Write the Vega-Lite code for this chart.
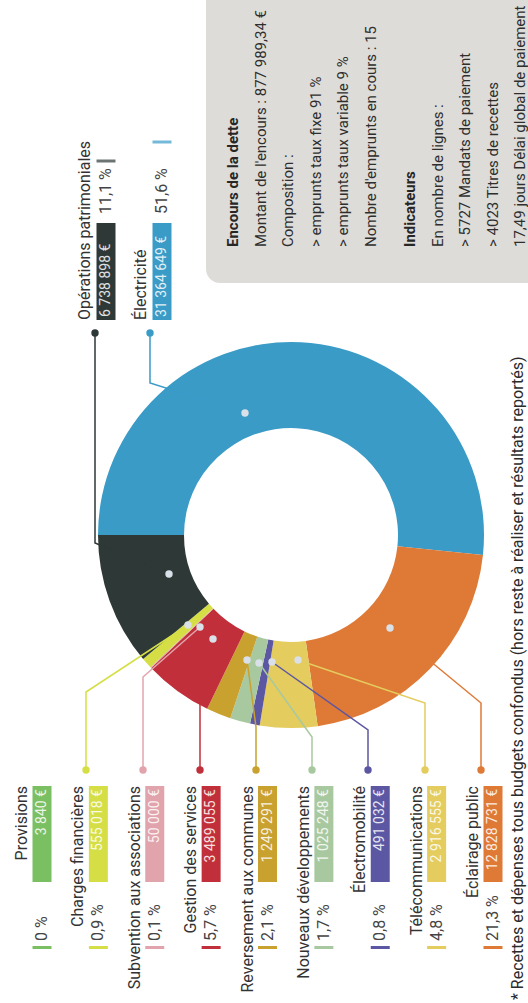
{
  "$schema": "https://vega.github.io/schema/vega-lite/v6.json",
  "width": 528,
  "height": 1003,
  "autosize": "none",
  "padding": 0,
  "background": "white",
  "config": {
    "view": {"stroke": null},
    "font": "Roboto",
    "scale": {"pointPadding": 0},
    "locale": {"number": {"decimal": ",", "thousands": "\u00a0", "grouping": [3], "currency": ["", "\u00a0€"]}}
  },
  "datasets": {
    "cats": [
      {"category": "Électricité", "amount": 31364649, "pct": "51,6 %", "order": 1},
      {"category": "Éclairage public", "amount": 12828731, "pct": "21,3 %", "order": 2},
      {"category": "Télécommunications", "amount": 2916555, "pct": "4,8 %", "order": 3},
      {"category": "Électromobilité", "amount": 491032, "pct": "0,8 %", "order": 4},
      {"category": "Nouveaux développements", "amount": 1025248, "pct": "1,7 %", "order": 5},
      {"category": "Reversement aux communes", "amount": 1249291, "pct": "2,1 %", "order": 6},
      {"category": "Gestion des services", "amount": 3489055, "pct": "5,7 %", "order": 7},
      {"category": "Subvention aux associations", "amount": 50000, "pct": "0,1 %", "order": 8},
      {"category": "Charges financières", "amount": 555018, "pct": "0,9 %", "order": 9},
      {"category": "Provisions", "amount": 3840, "pct": "0 %", "order": 10},
      {"category": "Opérations patrimoniales", "amount": 6738898, "pct": "11,1 %", "order": 11}
    ],
    "leaders": [
      {"category": "Électricité", "step": 0, "px": 245, "py": 413},
      {"category": "Électricité", "step": 1, "px": 150, "py": 383},
      {"category": "Électricité", "step": 2, "px": 150, "py": 333},
      {"category": "Opérations patrimoniales", "step": 0, "px": 169, "py": 574},
      {"category": "Opérations patrimoniales", "step": 1, "px": 95, "py": 543},
      {"category": "Opérations patrimoniales", "step": 2, "px": 95, "py": 333},
      {"category": "Charges financières", "step": 0, "px": 188, "py": 625},
      {"category": "Charges financières", "step": 1, "px": 86, "py": 692},
      {"category": "Charges financières", "step": 2, "px": 86, "py": 770},
      {"category": "Subvention aux associations", "step": 0, "px": 200, "py": 627},
      {"category": "Subvention aux associations", "step": 1, "px": 143, "py": 677},
      {"category": "Subvention aux associations", "step": 2, "px": 143, "py": 770},
      {"category": "Gestion des services", "step": 0, "px": 213, "py": 639},
      {"category": "Gestion des services", "step": 1, "px": 200, "py": 700},
      {"category": "Gestion des services", "step": 2, "px": 200, "py": 770},
      {"category": "Reversement aux communes", "step": 0, "px": 247, "py": 660},
      {"category": "Reversement aux communes", "step": 1, "px": 256, "py": 727},
      {"category": "Reversement aux communes", "step": 2, "px": 256, "py": 770},
      {"category": "Nouveaux développements", "step": 0, "px": 259, "py": 663},
      {"category": "Nouveaux développements", "step": 1, "px": 312, "py": 737},
      {"category": "Nouveaux développements", "step": 2, "px": 312, "py": 770},
      {"category": "Électromobilité", "step": 0, "px": 272, "py": 662},
      {"category": "Électromobilité", "step": 1, "px": 368, "py": 730},
      {"category": "Électromobilité", "step": 2, "px": 368, "py": 770},
      {"category": "Télécommunications", "step": 0, "px": 298, "py": 660},
      {"category": "Télécommunications", "step": 1, "px": 425, "py": 703},
      {"category": "Télécommunications", "step": 2, "px": 425, "py": 770},
      {"category": "Éclairage public", "step": 0, "px": 390, "py": 628},
      {"category": "Éclairage public", "step": 1, "px": 481, "py": 703},
      {"category": "Éclairage public", "step": 2, "px": 481, "py": 770}
    ]
  },
  "resolve": {"scale": {"x": "independent", "y": "independent"}},
  "layer": [
    {
      "data": {"values": [{}]},
      "mark": {"type": "rect", "color": "#dddcd8", "cornerRadiusBottomLeft": 14},
      "encoding": {
        "x": {"datum": 206, "type": "quantitative", "scale": {"domain": [0, 528], "nice": false, "zero": false}, "axis": null},
        "x2": {"datum": 528},
        "y": {"datum": 0, "type": "quantitative", "scale": {"domain": [0, 1003], "nice": false, "reverse": true}, "axis": null},
        "y2": {"datum": 283}
      }
    },
    {
      "data": {"values": [{}]},
      "mark": {"type": "text", "angle": 270, "align": "left", "baseline": "top", "fontSize": 15, "fontWeight": "bold", "color": "#262626", "text": "Encours de la dette"},
      "encoding": {
        "x": {"datum": 226, "type": "quantitative", "scale": {"domain": [0, 528], "nice": false, "zero": false}, "axis": null},
        "y": {"datum": 247, "type": "quantitative", "scale": {"domain": [0, 1003], "nice": false, "reverse": true}, "axis": null}
      }
    },
    {
      "data": {"values": [{}]},
      "mark": {
        "type": "text", "angle": 270, "align": "left", "baseline": "top", "fontSize": 15, "lineHeight": 27.5, "color": "#2e2e2e",
        "text": ["", "Montant de l'encours : 877 989,34 €", "Composition :", "> emprunts taux fixe 91 %", "> emprunts taux variable 9 %", "Nombre d'emprunts en cours : 15"]
      },
      "encoding": {
        "x": {"datum": 226, "type": "quantitative", "scale": {"domain": [0, 528], "nice": false, "zero": false}, "axis": null},
        "y": {"datum": 247, "type": "quantitative", "scale": {"domain": [0, 1003], "nice": false, "reverse": true}, "axis": null}
      }
    },
    {
      "data": {"values": [{}]},
      "mark": {"type": "text", "angle": 270, "align": "left", "baseline": "top", "fontSize": 15, "fontWeight": "bold", "color": "#262626", "text": "Indicateurs"},
      "encoding": {
        "x": {"datum": 403, "type": "quantitative", "scale": {"domain": [0, 528], "nice": false, "zero": false}, "axis": null},
        "y": {"datum": 247, "type": "quantitative", "scale": {"domain": [0, 1003], "nice": false, "reverse": true}, "axis": null}
      }
    },
    {
      "data": {"values": [{}]},
      "mark": {
        "type": "text", "angle": 270, "align": "left", "baseline": "top", "fontSize": 15, "lineHeight": 27.5, "color": "#2e2e2e",
        "text": ["", "En nombre de lignes :", "> 5727 Mandats de paiement", "> 4023 Titres de recettes", "17,49 jours Délai global de paiement"]
      },
      "encoding": {
        "x": {"datum": 403, "type": "quantitative", "scale": {"domain": [0, 528], "nice": false, "zero": false}, "axis": null},
        "y": {"datum": 247, "type": "quantitative", "scale": {"domain": [0, 1003], "nice": false, "reverse": true}, "axis": null}
      }
    },
    {
      "data": {"name": "cats"},
      "mark": {"type": "arc", "radius": 193, "radius2": 107, "stroke": null},
      "encoding": {
        "theta": {"field": "amount", "type": "quantitative", "stack": true, "scale": {"range": [4.71238898, 10.99557429]}},
        "order": {"field": "order", "type": "quantitative"},
        "color": {
          "field": "category", "type": "nominal", "legend": null,
          "scale": {
            "domain": ["Électricité", "Éclairage public", "Télécommunications", "Électromobilité", "Nouveaux développements", "Reversement aux communes", "Gestion des services", "Subvention aux associations", "Charges financières", "Provisions", "Opérations patrimoniales"],
            "range": ["#3a9bc7", "#df7936", "#e4cc5e", "#5c57a2", "#a8c9a0", "#c9a12f", "#c1303a", "#e2a4ac", "#d5df45", "#7bbf63", "#2e3937"]
          }
        },
        "x": {"datum": 291, "type": "quantitative", "scale": {"domain": [0, 528], "nice": false, "zero": false}, "axis": null},
        "y": {"datum": 535, "type": "quantitative", "scale": {"domain": [0, 1003], "nice": false, "reverse": true}, "axis": null}
      }
    },
    {
      "data": {"name": "leaders"},
      "mark": {"type": "line", "strokeWidth": 1.5, "interpolate": "linear"},
      "encoding": {
        "x": {"field": "px", "type": "quantitative", "scale": {"domain": [0, 528], "nice": false, "zero": false}, "axis": null},
        "y": {"field": "py", "type": "quantitative", "scale": {"domain": [0, 1003], "nice": false, "reverse": true}, "axis": null},
        "order": {"field": "step", "type": "quantitative"},
        "color": {"field": "category", "type": "nominal", "legend": null}
      }
    },
    {
      "data": {"name": "leaders"},
      "transform": [{"filter": "datum.step == 0"}],
      "mark": {"type": "circle", "size": 55, "color": "#d9e0e7", "opacity": 1},
      "encoding": {
        "x": {"field": "px", "type": "quantitative", "scale": {"domain": [0, 528], "nice": false, "zero": false}, "axis": null},
        "y": {"field": "py", "type": "quantitative", "scale": {"domain": [0, 1003], "nice": false, "reverse": true}, "axis": null}
      }
    },
    {
      "data": {"name": "leaders"},
      "transform": [{"filter": "datum.step == 2"}],
      "mark": {"type": "circle", "size": 55, "opacity": 1},
      "encoding": {
        "x": {"field": "px", "type": "quantitative", "scale": {"domain": [0, 528], "nice": false, "zero": false}, "axis": null},
        "y": {"field": "py", "type": "quantitative", "scale": {"domain": [0, 1003], "nice": false, "reverse": true}, "axis": null},
        "color": {"field": "category", "type": "nominal", "legend": null}
      }
    },
    {
      "data": {"name": "cats"},
      "transform": [{"filter": {"field": "category", "oneOf": ["Provisions", "Charges financières", "Subvention aux associations", "Gestion des services", "Reversement aux communes", "Nouveaux développements", "Électromobilité", "Télécommunications", "Éclairage public"]}}],
      "mark": {"type": "text", "angle": 270, "align": "right", "baseline": "middle", "fontSize": 16, "color": "#333333"},
      "encoding": {
        "x": {"field": "category", "type": "nominal", "axis": null, "scale": {"type": "point", "padding": 0, "domain": ["Provisions", "Charges financières", "Subvention aux associations", "Gestion des services", "Reversement aux communes", "Nouveaux développements", "Électromobilité", "Télécommunications", "Éclairage public"], "range": [22, 473]}},
        "y": {"datum": 786, "type": "quantitative", "scale": {"domain": [0, 1003], "nice": false, "reverse": true}, "axis": null},
        "text": {"field": "category"}
      }
    },
    {
      "data": {"name": "cats"},
      "transform": [{"filter": {"field": "category", "oneOf": ["Provisions", "Charges financières", "Subvention aux associations", "Gestion des services", "Reversement aux communes", "Nouveaux développements", "Électromobilité", "Télécommunications", "Éclairage public"]}}],
      "mark": {"type": "bar", "width": 19},
      "encoding": {
        "x": {"field": "category", "type": "nominal", "axis": null, "scale": {"type": "point", "padding": 0, "domain": ["Provisions", "Charges financières", "Subvention aux associations", "Gestion des services", "Reversement aux communes", "Nouveaux développements", "Électromobilité", "Télécommunications", "Éclairage public"], "range": [42, 493]}},
        "y": {"datum": 786, "type": "quantitative", "scale": {"domain": [0, 1003], "nice": false, "reverse": true}, "axis": null},
        "y2": {"datum": 882},
        "color": {"field": "category", "type": "nominal", "legend": null}
      }
    },
    {
      "data": {"name": "cats"},
      "transform": [{"filter": {"field": "category", "oneOf": ["Provisions", "Charges financières", "Subvention aux associations", "Gestion des services", "Reversement aux communes", "Nouveaux développements", "Électromobilité", "Télécommunications", "Éclairage public"]}}],
      "mark": {"type": "bar", "width": 19},
      "encoding": {
        "x": {"field": "category", "type": "nominal", "axis": null, "scale": {"type": "point", "padding": 0, "domain": ["Provisions", "Charges financières", "Subvention aux associations", "Gestion des services", "Reversement aux communes", "Nouveaux développements", "Électromobilité", "Télécommunications", "Éclairage public"], "range": [42, 493]}},
        "y": {"datum": 946, "type": "quantitative", "scale": {"domain": [0, 1003], "nice": false, "reverse": true}, "axis": null},
        "y2": {"datum": 949},
        "color": {"field": "category", "type": "nominal", "legend": null}
      }
    },
    {
      "data": {"name": "cats"},
      "transform": [{"filter": {"field": "category", "oneOf": ["Provisions", "Charges financières", "Subvention aux associations", "Gestion des services", "Reversement aux communes", "Nouveaux développements", "Électromobilité", "Télécommunications", "Éclairage public"]}}],
      "mark": {"type": "text", "angle": 270, "align": "right", "baseline": "middle", "fontSize": 14, "color": "#ffffff", "opacity": 0.85},
      "encoding": {
        "x": {"field": "category", "type": "nominal", "axis": null, "scale": {"type": "point", "padding": 0, "domain": ["Provisions", "Charges financières", "Subvention aux associations", "Gestion des services", "Reversement aux communes", "Nouveaux développements", "Électromobilité", "Télécommunications", "Éclairage public"], "range": [42, 493]}},
        "y": {"datum": 789, "type": "quantitative", "scale": {"domain": [0, 1003], "nice": false, "reverse": true}, "axis": null},
        "text": {"field": "amount", "type": "quantitative", "format": "$,.0f"}
      }
    },
    {
      "data": {"name": "cats"},
      "transform": [{"filter": {"field": "category", "oneOf": ["Provisions", "Charges financières", "Subvention aux associations", "Gestion des services", "Reversement aux communes", "Nouveaux développements", "Électromobilité", "Télécommunications", "Éclairage public"]}}],
      "mark": {"type": "text", "angle": 270, "align": "left", "baseline": "middle", "fontSize": 16, "color": "#444444"},
      "encoding": {
        "x": {"field": "category", "type": "nominal", "axis": null, "scale": {"type": "point", "padding": 0, "domain": ["Provisions", "Charges financières", "Subvention aux associations", "Gestion des services", "Reversement aux communes", "Nouveaux développements", "Électromobilité", "Télécommunications", "Éclairage public"], "range": [42, 493]}},
        "y": {"datum": 941, "type": "quantitative", "scale": {"domain": [0, 1003], "nice": false, "reverse": true}, "axis": null},
        "text": {"field": "pct"}
      }
    },
    {
      "data": {"name": "cats"},
      "transform": [{"filter": {"field": "category", "oneOf": ["Opérations patrimoniales", "Électricité"]}}],
      "mark": {"type": "text", "angle": 270, "align": "left", "baseline": "middle", "fontSize": 16, "color": "#333333"},
      "encoding": {
        "x": {"field": "category", "type": "nominal", "axis": null, "scale": {"type": "point", "padding": 0, "domain": ["Opérations patrimoniales", "Électricité"], "range": [85, 141]}},
        "y": {"datum": 320, "type": "quantitative", "scale": {"domain": [0, 1003], "nice": false, "reverse": true}, "axis": null},
        "text": {"field": "category"}
      }
    },
    {
      "data": {"name": "cats"},
      "transform": [{"filter": {"field": "category", "oneOf": ["Opérations patrimoniales", "Électricité"]}}],
      "mark": {"type": "bar", "width": 19},
      "encoding": {
        "x": {"field": "category", "type": "nominal", "axis": null, "scale": {"type": "point", "padding": 0, "domain": ["Opérations patrimoniales", "Électricité"], "range": [106, 162]}},
        "y": {"datum": 223, "type": "quantitative", "scale": {"domain": [0, 1003], "nice": false, "reverse": true}, "axis": null},
        "y2": {"datum": 320},
        "color": {"field": "category", "type": "nominal", "legend": null}
      }
    },
    {
      "data": {"name": "cats"},
      "transform": [{"filter": {"field": "category", "oneOf": ["Opérations patrimoniales", "Électricité"]}}],
      "mark": {"type": "text", "angle": 270, "align": "left", "baseline": "middle", "fontSize": 14, "color": "#ffffff", "opacity": 0.85},
      "encoding": {
        "x": {"field": "category", "type": "nominal", "axis": null, "scale": {"type": "point", "padding": 0, "domain": ["Opérations patrimoniales", "Électricité"], "range": [106, 162]}},
        "y": {"datum": 317, "type": "quantitative", "scale": {"domain": [0, 1003], "nice": false, "reverse": true}, "axis": null},
        "text": {"field": "amount", "type": "quantitative", "format": "$,.0f"}
      }
    },
    {
      "data": {"name": "cats"},
      "transform": [{"filter": {"field": "category", "oneOf": ["Opérations patrimoniales", "Électricité"]}}],
      "mark": {"type": "text", "angle": 270, "align": "left", "baseline": "middle", "fontSize": 16, "color": "#444444"},
      "encoding": {
        "x": {"field": "category", "type": "nominal", "axis": null, "scale": {"type": "point", "padding": 0, "domain": ["Opérations patrimoniales", "Électricité"], "range": [106, 162]}},
        "y": {"datum": 214, "type": "quantitative", "scale": {"domain": [0, 1003], "nice": false, "reverse": true}, "axis": null},
        "text": {"field": "pct"}
      }
    },
    {
      "data": {"name": "cats"},
      "transform": [{"filter": {"field": "category", "oneOf": ["Opérations patrimoniales", "Électricité"]}}],
      "mark": {"type": "tick", "orient": "horizontal", "size": 19, "thickness": 3},
      "encoding": {
        "x": {"field": "category", "type": "nominal", "axis": null, "scale": {"type": "point", "padding": 0, "domain": ["Opérations patrimoniales", "Électricité"], "range": [106, 162]}},
        "y": {"field": "category", "type": "nominal", "axis": null, "scale": {"type": "point", "padding": 0, "domain": ["Opérations patrimoniales", "Électricité"], "range": [161, 142]}},
        "color": {"field": "category", "type": "nominal", "legend": null}
      }
    },
    {
      "data": {"values": [{}]},
      "mark": {"type": "text", "angle": 270, "align": "left", "baseline": "middle", "fontSize": 16, "color": "#2b2b2b", "text": "* Recettes et dépenses tous budgets confondus (hors reste à réaliser et résultats reportés)"},
      "encoding": {
        "x": {"datum": 518, "type": "quantitative", "scale": {"domain": [0, 528], "nice": false, "zero": false}, "axis": null},
        "y": {"datum": 1000, "type": "quantitative", "scale": {"domain": [0, 1003], "nice": false, "reverse": true}, "axis": null}
      }
    }
  ]
}
